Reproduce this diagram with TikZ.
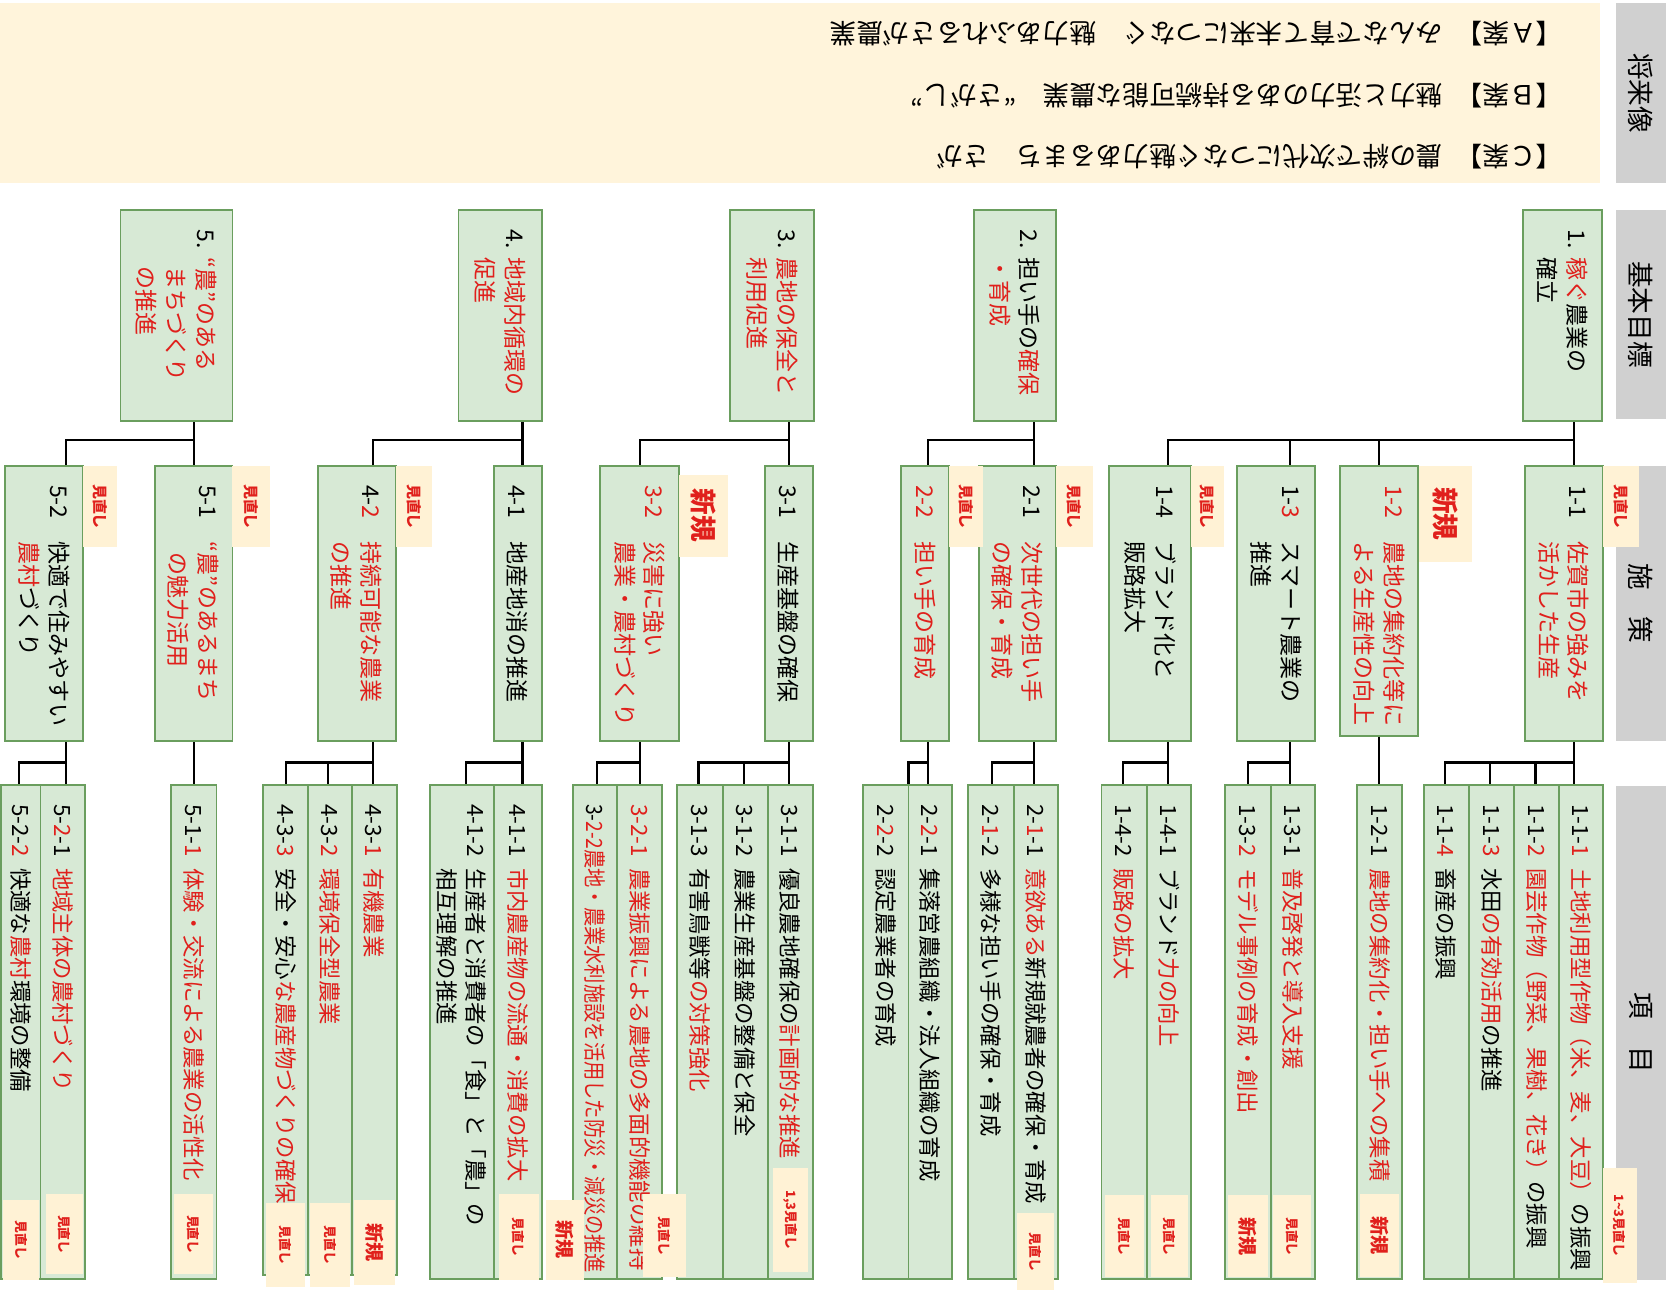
\documentclass[tikz,border=0pt]{standalone}
\usepackage{fontspec}
\setmainfont{Noto Sans CJK JP}
\usepackage{graphicx}
\usetikzlibrary{calc}
\definecolor{boxfill}{HTML}{D7E9D5}
\definecolor{boxline}{HTML}{6A9E5E}
\definecolor{hdrgray}{HTML}{D0D0D0}
\definecolor{bannerfill}{HTML}{FFF4DB}
\definecolor{tagfill}{HTML}{FFF2D5}
\definecolor{myred}{HTML}{E0201C}
\exhyphenpenalty=10000
\hyphenpenalty=10000
\hfuzz=\maxdimen
\hbadness=10000
\newcommand\redt[1]{\textcolor{myred}{#1}}
\newcommand\nq{\kern1em\relax}
\newcommand\gs{\kern0.4em\relax}
\newcommand\mybox[7]{%
  \pgfmathsetmacro\bxw{(#6-#5)*0.5}%
  \pgfmathsetmacro\bxh{(#4-#3)*0.5}%
  \pgfmathsetmacro\bxt{(#6-#5)*0.5-18}%
  \node[#1, minimum width=\bxw pt, minimum height=\bxh pt, text width=\bxt pt] (#2) at ({(#3+#4)/2},{(#5+#6)/2}) {#7};%
}
\newcommand\mytag[7]{%
  \pgfmathsetmacro\bxw{(#6-#5)*0.5}%
  \pgfmathsetmacro\bxh{(#4-#3)*0.5}%
  \node[#1, minimum width=\bxw pt, minimum height=\bxh pt] (#2) at ({(#3+#4)/2},{(#5+#6)/2}) {#7};%
}
\newcommand\busline[4]{%
  \coordinate (#1-bus) at (#2,#3);
  \draw[conn] (#1.east -| #1-bus) -- (#1-bus);
  \foreach \ch/\dx in {#4}{%
    \coordinate (\ch-drop) at (\dx,#3);
    \draw[conn] (#1-bus) -- (\ch-drop) -- (\ch.west -| \ch-drop);
  }%
}
\tikzset{
  hdr/.style={rotate=-90, fill=hdrgray, inner sep=0pt, font=\fontsize{12.5}{15}\selectfont},
  box/.style={rotate=-90, draw=boxline, fill=boxfill, line width=0.9pt, inner xsep=9pt, inner ysep=0pt, align=left, font=\fontsize{10.8}{14}\selectfont},
  ibox/.style={box, font=\fontsize{10.5}{13.5}\selectfont},
  tagM/.style={rotate=-90, fill=tagfill, inner sep=0pt, text=myred, font=\fontsize{7}{8}\selectfont\bfseries},
  tagS/.style={rotate=-90, fill=tagfill, inner sep=0pt, text=myred, font=\fontsize{6}{7}\selectfont\bfseries},
  tagN/.style={rotate=-90, fill=tagfill, inner sep=0pt, text=myred, font=\fontsize{12.5}{14}\selectfont\bfseries},
  tagNs/.style={rotate=-90, fill=tagfill, inner sep=0pt, text=myred, font=\fontsize{9}{10}\selectfont\bfseries},
  conn/.style={line width=1pt, black},
  btext/.style={rotate=180, anchor=west, inner sep=0pt, font=\fontsize{12.5}{15}\selectfont}
}
\begin{document}
\begin{tikzpicture}[x=0.5pt, y=-0.5pt]
\useasboundingbox (0,0) rectangle (1568,1210);
\fill[white] (0,0) rectangle (1568,1210);
% banner
\node[fill=bannerfill, minimum width=750pt, minimum height=84.5pt, inner sep=0pt] (banner) at (750,87.5) {};
\node[btext] (tA) at (1466,32) {【Ａ案】\kern0.5em みんなで育て未来につなぐ　魅力あふれるさが農業};
\node[btext] (tB) at (1466,90) {【Ｂ案】\kern0.5em 魅力と活力のある持続可能な農業　“さがし”};
\node[btext] (tC) at (1466,147) {【Ｃ案】\kern0.5em 農の絆で次代につなぐ魅力あるまち　さが};
% headers
\mytag{hdr}{h0}{1515}{1562}{3}{172}{将来像}
\mytag{hdr}{h1}{1515}{1562}{197}{393}{基本目標}
\mytag{hdr}{h2}{1515}{1562}{437}{695}{施　策}
\mytag{hdr}{h3}{1515}{1562}{737}{1200}{項　目}
% goals
\mybox{box}{g1}{1428}{1502}{197}{395}{1.\gs\redt{稼ぐ}農業の\\\phantom{1.}\gs 確立}
\mybox{box}{g2}{913}{990}{197}{395}{2.\gs 担い手の\redt{確保}\\\phantom{2.}\gs\redt{・育成}}
\mybox{box}{g3}{685}{763}{197}{395}{3.\gs\redt{農地の保全と}\\\phantom{3.}\gs\redt{利用促進}}
\mybox{box}{g4}{430}{508}{197}{395}{4.\gs\redt{地域内循環の}\\\phantom{4.}\gs\redt{促進}}
\mybox{box}{g5}{113}{218}{197}{395}{5.\gs\redt{“農”のある}\\\phantom{5.“}\gs\redt{まちづくり}\\\phantom{5.“}\gs\redt{の推進}}
% measures
\mybox{box}{c11}{1430}{1503}{437}{695}{1-1\nq\redt{佐賀市の強みを}\\\phantom{1-1}\nq\redt{活かした生産}}
\mybox{box}{c12}{1257}{1330}{437}{690}{\redt{1-2\nq 農地の集約化等に}\\\phantom{1-2}\nq\redt{よる生産性の向上}}
\mybox{box}{c13}{1160}{1233}{437}{695}{1-\redt{3}\nq スマート農業の\\\phantom{1-3}\nq 推進}
\mybox{box}{c14}{1040}{1117}{437}{695}{1-4\nq ブランド化と\\\phantom{1-4}\nq 販路拡大}
\mybox{box}{c21}{918}{990}{437}{695}{2-1\nq\redt{次世代の担い手}\\\phantom{2-1}\nq\redt{の確保・育成}}
\mybox{box}{c22}{845}{890}{437}{695}{\redt{2-2\nq 担い手の育成}}
\mybox{box}{c31}{717}{762}{437}{695}{3-1\nq 生産基盤の確保}
\mybox{box}{c32}{563}{637}{437}{695}{\redt{3-2\nq 災害に強い}\\\phantom{3-2}\nq\redt{農業・農村づくり}}
\mybox{box}{c41}{463}{508}{437}{695}{4-1\nq 地産地消の推進}
\mybox{box}{c42}{298}{371}{437}{695}{4-\redt{2}\nq\redt{持続可能な農業}\\\phantom{4-2}\nq\redt{の推進}}
\mybox{box}{c51}{145}{218}{437}{695}{5-1\nq\redt{“農”のあるまち}\\\phantom{5-1“}\nq\redt{の魅力活用}}
\mybox{box}{c52}{5}{78}{437}{695}{5-2\nq 快適で住みやすい\\\phantom{5-2}\nq\redt{農村}づくり}
% items
\mybox{ibox}{i111}{1462}{1503}{736}{1199}{1-1-\redt{1}\enspace\redt{土地利用型作物（米、麦、大豆）}の振興}
\mybox{ibox}{i112}{1420}{1462}{736}{1199}{1-1-\redt{2}\enspace\redt{園芸作物（野菜、果樹、花き）}の振興}
\mybox{ibox}{i113}{1378}{1420}{736}{1199}{1-1-\redt{3}\enspace 水田\redt{の有効活用}の推進}
\mybox{ibox}{i114}{1335}{1378}{736}{1199}{1-1-\redt{4}\enspace 畜産の振興}
\mybox{ibox}{i121}{1273}{1315}{736}{1199}{1-2-1\enspace\redt{農地の集約化・担い手への集積}}
\mybox{ibox}{i131}{1192}{1233}{736}{1199}{1-3-1\enspace\redt{普及啓発と導入支援}}
\mybox{ibox}{i132}{1149}{1192}{736}{1199}{1-3-\redt{2}\enspace\redt{モデル事例の育成・創出}}
\mybox{ibox}{i141}{1076}{1117}{736}{1199}{1-4-1\enspace ブランド\redt{力の向上}}
\mybox{ibox}{i142}{1033}{1076}{736}{1199}{1-4-2\enspace\redt{販路の拡大}}
\mybox{ibox}{i211}{951}{992}{736}{1199}{2-\redt{1}-1\enspace\redt{意欲ある}新規就農者の確保・育成}
\mybox{ibox}{i212}{908}{951}{736}{1199}{2-\redt{1}-2\enspace 多様な担い手の確保・育成}
\mybox{ibox}{i221}{852}{893}{736}{1199}{2-\redt{2}-1\enspace 集落営農組織・法人組織の育成}
\mybox{ibox}{i222}{809}{852}{736}{1199}{2-\redt{2}-2\enspace 認定農業者の育成}
\mybox{ibox}{i311}{720}{762}{736}{1199}{3-1-1\enspace 優良農地確保の\redt{計画的な推進}}
\mybox{ibox}{i312}{678}{720}{736}{1199}{3-1-2\enspace 農業生産基盤の整備と保全}
\mybox{ibox}{i313}{635}{678}{736}{1199}{3-1-3\enspace 有害鳥獣等\redt{の対策強化}}
\mybox{ibox}{i321}{579}{621}{736}{1199}{\redt{3-2-1\enspace 農業振興による農地の多面的機能の維持}}
\mybox{ibox}{i322}{537}{579}{736}{1199}{\scalebox{0.86}[1]{3-\redt{2-2農地・農業水利施設を活用した防災・減災の推進}}}
\mybox{ibox}{i411}{463}{508}{736}{1199}{4-1-1\enspace\redt{市内農産物の流通・消費の拡大}}
\mybox{ibox}{i412}{403}{463}{736}{1199}{4-1-2\enspace 生産者と消費者の「食」と「農」の\\\phantom{4-1-2}\enspace 相互理解の推進}
\mybox{ibox}{i431}{330}{372}{736}{1196}{4-3-\redt{1}\enspace\redt{有機農業}}
\mybox{ibox}{i432}{289}{330}{736}{1196}{4-3-\redt{2}\enspace\redt{環境保全型農業}}
\mybox{ibox}{i433}{247}{289}{736}{1196}{4-3-\redt{3}\enspace 安全・安心\redt{な農産物づくりの確保}}
\mybox{ibox}{i511}{160}{203}{736}{1199}{5-1-\redt{1}\enspace\redt{体験・交流による農業の活性化}}
\mybox{ibox}{i521}{38}{80}{736}{1199}{5-\redt{2}-1\enspace\redt{地域主体の農村づくり}}
\mybox{ibox}{i522}{1}{38}{736}{1199}{5-2-\redt{2}\enspace 快適な\redt{農村}環境の整備}
% connectors goal -> measures
\busline{g1}{1476}{413}{c11/1476, c12/1293, c13/1210, c14/1095}
\busline{g2}{970}{413}{c21/970, c22/870}
\busline{g3}{740}{413}{c31/740, c32/600}
\busline{g4}{490}{413}{c41/490, c42/350}
\busline{g5}{182}{413}{c51/182, c52/62}
% connectors measures -> items
\busline{c11}{1476}{715}{i111/1476, i112/1440, i113/1397, i114/1355}
\busline{c12}{1293}{715}{i121/1293}
\busline{c13}{1210}{715}{i131/1210, i132/1170}
\busline{c14}{1095}{715}{i141/1095, i142/1053}
\busline{c21}{970}{715}{i211/970, i212/930}
\busline{c22}{870}{715}{i221/870, i222/852}
\busline{c31}{740}{715}{i311/740, i312/698, i313/655}
\busline{c32}{600}{715}{i321/600, i322/560}
\busline{c41}{490}{715}{i411/490, i412/437}
\busline{c42}{350}{715}{i431/350, i432/308, i433/268}
\busline{c51}{182}{715}{i511/182}
\busline{c52}{62}{715}{i521/62, i522/18}
% measure tags
\mytag{tagM}{t11}{1503}{1537}{437}{513}{見直し}
\mytag{tagN}{t12}{1331}{1380}{437}{527}{新規}
\mytag{tagM}{t14}{1117}{1148}{437}{513}{見直し}
\mytag{tagM}{t21}{990}{1025}{437}{513}{見直し}
\mytag{tagM}{t22}{890}{922}{437}{513}{見直し}
\mytag{tagN}{t32}{637}{683}{445}{522}{新規}
\mytag{tagM}{t42}{371}{405}{437}{513}{見直し}
\mytag{tagM}{t51}{218}{253}{437}{513}{見直し}
\mytag{tagM}{t52}{78}{110}{437}{513}{見直し}
% item tags
\mytag{tagS}{t111}{1503}{1535}{1095}{1203}{1\textasciitilde 3見直し}
\mytag{tagNs}{t121}{1275}{1312}{1120}{1198}{新規}
\mytag{tagS}{t131}{1194}{1229}{1121}{1198}{見直し}
\mytag{tagNs}{t132}{1152}{1189}{1121}{1198}{新規}
\mytag{tagS}{t141}{1079}{1114}{1121}{1198}{見直し}
\mytag{tagS}{t142}{1036}{1073}{1121}{1198}{見直し}
\mytag{tagS}{t211}{954}{988}{1138}{1210}{見直し}
\mytag{tagS}{t311}{725}{758}{1095}{1193}{1,3見直し}
\mytag{tagS}{t321}{603}{643}{1120}{1198}{見直し}
\mytag{tagNs}{t322}{512}{548}{1125}{1200}{新規}
\mytag{tagS}{t411}{468}{505}{1120}{1200}{見直し}
\mytag{tagNs}{t431}{332}{370}{1125}{1205}{新規}
\mytag{tagS}{t432}{291}{328}{1128}{1207}{見直し}
\mytag{tagS}{t433}{249}{286}{1128}{1207}{見直し}
\mytag{tagS}{t511}{163}{200}{1120}{1195}{見直し}
\mytag{tagS}{t521}{43}{78}{1120}{1195}{見直し}
\mytag{tagS}{t522}{3}{37}{1125}{1200}{見直し}
\end{tikzpicture}
\end{document}
